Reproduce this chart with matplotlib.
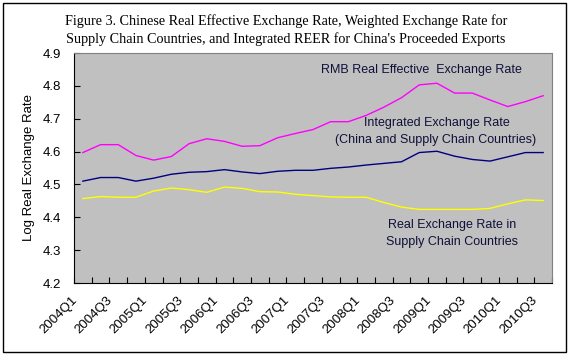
import numpy as np
import matplotlib
matplotlib.use('Agg')
import matplotlib.pyplot as plt
from matplotlib.patches import Rectangle
from matplotlib.transforms import ScaledTranslation

# Данные (кварталы 2004Q1 - 2010Q3)
quarters = [f'{y}Q{q}' for y in range(2004, 2011) for q in range(1, 5)][:27]

rmb_reer = [4.597, 4.621, 4.621, 4.588, 4.574, 4.585, 4.624, 4.639, 4.631,
            4.616, 4.618, 4.642, 4.655, 4.667, 4.691, 4.691, 4.710, 4.735,
            4.764, 4.803, 4.808, 4.778, 4.778, 4.757, 4.737, 4.752, 4.770]
integrated = [4.510, 4.521, 4.521, 4.510, 4.519, 4.531, 4.537, 4.539, 4.545,
              4.538, 4.533, 4.540, 4.543, 4.543, 4.549, 4.553, 4.559, 4.564,
              4.569, 4.597, 4.601, 4.586, 4.576, 4.571, 4.584, 4.597, 4.597]
supply_chain = [4.457, 4.463, 4.461, 4.461, 4.480, 4.489, 4.484, 4.476, 4.492,
                4.488, 4.478, 4.477, 4.470, 4.466, 4.462, 4.461, 4.461, 4.445,
                4.431, 4.424, 4.424, 4.424, 4.424, 4.427, 4.441, 4.453, 4.451]

yticks = [4.2, 4.3, 4.4, 4.5, 4.6, 4.7, 4.8, 4.9]

plt.rcParams['font.family'] = ['Liberation Sans', 'DejaVu Sans']

fig = plt.figure(figsize=(5.72, 3.57), dpi=100)
fig.patches.append(Rectangle((3 / 572, 5 / 357), 563 / 572, 349 / 357,
                             transform=fig.transFigure, fill=False,
                             edgecolor='black', linewidth=1.0))

ax = fig.add_axes([74 / 572, 74 / 357, 478 / 572, 230 / 357])
ax.set_facecolor('#C0C0C0')

x = np.arange(len(quarters))
ax.plot(x, rmb_reer, color='#FF00FF', linewidth=1.0)
ax.plot(x, integrated, color='#000080', linewidth=1.0)
ax.plot(x, supply_chain, color='#FFFF00', linewidth=1.0)

ax.set_xlim(-0.5, len(quarters) - 0.5)
ax.set_ylim(4.2, 4.9)
ax.set_yticks(yticks)
ax.set_yticklabels([f'{v:.1f}' for v in yticks], fontsize=9.5)
ax.tick_params(axis='y', direction='in', length=4, pad=9)

# Деления между категориями, подписи через одну
ax.set_xticks(np.arange(-0.5, len(quarters)))
ax.set_xticklabels([])
ax.tick_params(axis='x', which='major', direction='in', length=4)
ax.set_xticks(x[::2], minor=True)
ax.set_xticklabels(quarters[::2], minor=True, rotation=45, ha='right',
                   rotation_mode='anchor', fontsize=9.5)
ax.tick_params(axis='x', which='minor', length=0, pad=6)
shift = ScaledTranslation(-12 / 100, -3 / 100, fig.dpi_scale_trans)
for lbl in ax.get_xticklabels(minor=True):
    lbl.set_transform(lbl.get_transform() + shift)

for side in ['top', 'right']:
    ax.spines[side].set_color('#808080')
for side in ['left', 'bottom']:
    ax.spines[side].set_color('black')

ax.set_ylabel('Log Real Exchange Rate', fontsize=9.5, labelpad=6)

txt = dict(fontsize=9, color='#10103a', ha='center', va='center',
           transform=fig.transFigure)
fig.text(421 / 572, 1 - 70 / 357, 'RMB Real Effective  Exchange Rate', **txt)
fig.text(437 / 572, 1 - 123 / 357, 'Integrated Exchange Rate', **txt)
fig.text(436 / 572, 1 - 140 / 357, '(China and Supply Chain Countries)', **txt)
fig.text(452 / 572, 1 - 225 / 357, 'Real Exchange Rate in', **txt)
fig.text(452 / 572, 1 - 242 / 357, 'Supply Chain Countries', **txt)

fig.text(286 / 572, 1 - 30 / 357,
         "Figure 3. Chinese Real Effective Exchange Rate, Weighted Exchange Rate for\n"
         "Supply Chain Countries, and Integrated REER for China's Proceeded Exports",
         ha='center', va='center', fontsize=10.2, family='Liberation Serif',
         linespacing=1.35)

fig.savefig('out.png', dpi=100)
